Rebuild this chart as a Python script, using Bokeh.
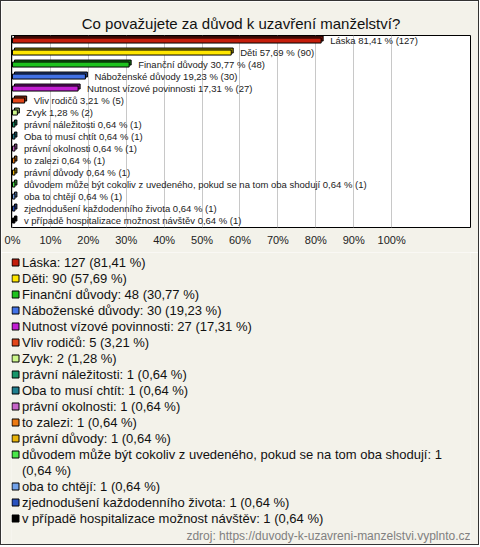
import textwrap
from bokeh.plotting import figure
from bokeh.models import Range1d, FixedTicker, ColumnDataSource
from bokeh.layouts import column
from bokeh.embed import file_html
from bokeh.resources import INLINE
from bokeh.core.properties import value

title = "Co považujete za důvod k uzavření manželství?"
categories = [
    "Láska", "Děti", "Finanční důvody", "Náboženské důvody",
    "Nutnost vízové povinnosti", "Vliv rodičů", "Zvyk",
    "právní náležitosti", "Oba to musí chtít", "právní okolnosti",
    "to zalezi", "právní důvody",
    "důvodem může být cokoliv z uvedeného, pokud se na tom oba shodují",
    "oba to chtějí", "zjednodušení každodenního života",
    "v případě hospitalizace možnost návštěv",
]
counts = [127, 90, 48, 30, 27, 5, 2, 1, 1, 1, 1, 1, 1, 1, 1, 1]
percents = [81.41, 57.69, 30.77, 19.23, 17.31, 3.21, 1.28,
            0.64, 0.64, 0.64, 0.64, 0.64, 0.64, 0.64, 0.64, 0.64]
colors = [
    "#c41e0c", "#ffe600", "#1ec21e", "#4272e6", "#c21ed2", "#e2461a",
    "#cdf78c", "#17966a", "#1f7f8f", "#c664c8", "#ec7a12", "#e8b40a",
    "#4ae84a", "#72a2ea", "#2a52be", "#000000",
]
tick_values = [0, 10, 20, 30, 40, 50, 60, 70, 80, 90, 100]
source_note = "zdroj: https://duvody-k-uzavreni-manzelstvi.vyplnto.cz"

FONT = "Liberation Sans"
BG = "#f3f2ea"


def fmt(v):
    return f"{v:.2f}".replace(".", ",")


def darker(c, f=0.6):
    c = c.lstrip("#")
    r, g, b = (int(c[i:i + 2], 16) for i in (0, 2, 4))
    return "#%02x%02x%02x" % (int(r * f), int(g * f), int(b * f))


n = len(categories)
rows = list(range(n))

# ---------------- bar chart ----------------
W, H1 = 477, 251
BL, BR = 10, 8
p = figure(width=W, height=H1, x_range=Range1d(-0.26, 120.8),
           y_range=Range1d(15.58, -0.42), output_backend="svg",
           toolbar_location=None, min_border_left=BL, min_border_right=BR,
           min_border_bottom=25, min_border_top=34)
p.title.text = title
p.title.align = "center"
p.title.text_font = FONT
p.title.text_font_size = "15px"
p.title.text_font_style = "normal"
p.title.text_color = "#111111"
p.title.standoff = 7
p.background_fill_color = "white"
p.border_fill_color = BG
p.outline_line_color = "black"
p.outline_line_width = 1
p.ygrid.visible = False
p.yaxis.visible = False
p.xaxis.ticker = FixedTicker(ticks=tick_values)
p.xgrid.grid_line_color = "#c8c8c8"
p.xaxis.major_label_overrides = {t: f"{t}%" for t in tick_values}
p.xaxis.axis_line_color = None
p.xaxis.major_tick_line_color = None
p.xaxis.minor_tick_line_color = None
p.xaxis.major_label_text_font = FONT
p.xaxis.major_label_text_font_size = "11px"
p.xaxis.major_label_text_color = "#222222"
p.xaxis.major_label_standoff = 0

px_x = (120.8 + 0.26) / 459.0
dx = 2 * px_x
dy = 2 / 12.0
h = 5 / 12.0

src = ColumnDataSource(dict(
    y=rows, pct=percents, color=colors,
    dark=[darker(c) for c in colors],
    label=[f"{c} {fmt(v)} % ({k})" for c, v, k in zip(categories, percents, counts)],
))
src.data["back_left"] = [dx] * n
src.data["back_right"] = [v + dx for v in percents]
src.data["back_top"] = [y - h / 2 - dy for y in rows]
src.data["back_bottom"] = [y + h / 2 - dy for y in rows]
src.data["left"] = [0] * n
src.data["top"] = [y - h / 2 for y in rows]
src.data["bottom"] = [y + h / 2 for y in rows]

p.quad(left="back_left", right="back_right", top="back_top", bottom="back_bottom",
       source=src, fill_color="dark", line_color="black", line_width=1)
p.quad(left="left", right="pct", top="top", bottom="bottom",
       source=src, fill_color="color", line_color="black", line_width=1)
p.text(x="pct", y="y", text="label", source=src, x_offset=9, y_offset=0,
       text_baseline="middle", text_align="left", text_font=value(FONT),
       text_font_size="9.5px", text_color="#222222")

# ---------------- legend ----------------
# the column aligns both plot frames, so this frame spans the same pixels;
# its x range is expressed in figure pixels
H2 = 292
q = figure(width=W, height=H2, x_range=Range1d(BL, W - BR), y_range=Range1d(H2, 0),
           output_backend="svg", toolbar_location=None,
           min_border_left=BL, min_border_right=BR,
           min_border_top=0, min_border_bottom=0,
           x_axis_location=None, y_axis_location=None)
q.grid.visible = False
q.outline_line_color = None
q.background_fill_color = BG
q.border_fill_color = BG

step = 16
y0 = 10
mk_x, mk_y, mk_c = [], [], []
tx, ty, tt = [], [], []
line = 0
for c, v, k, col in zip(categories, percents, counts, colors):
    text = f"{c}: {k} ({fmt(v)} %)"
    lines = textwrap.wrap(text, width=72)
    mk_x.append(14)
    mk_y.append(y0 + line * step)
    mk_c.append(col)
    for j, ln in enumerate(lines):
        tx.append(20.5)
        ty.append(y0 + line * step)
        tt.append(ln)
        line += 1

q.scatter(x=mk_x, y=mk_y, marker="square", size=7, fill_color=mk_c,
          line_color="black", line_width=1)
q.text(x=tx, y=ty, text=tt, text_baseline="middle", text_align="left",
       text_font=value(FONT), text_font_size="13px", text_color="#111111")
q.text(x=[469], y=[283], text=[source_note], text_baseline="middle",
       text_align="right", text_font=value(FONT), text_font_size="12px",
       text_color="#808080")

layout = column(p, q, spacing=0, styles={"border": "1px solid #333333"})
open("out.html", "w").write(file_html(layout, INLINE))
